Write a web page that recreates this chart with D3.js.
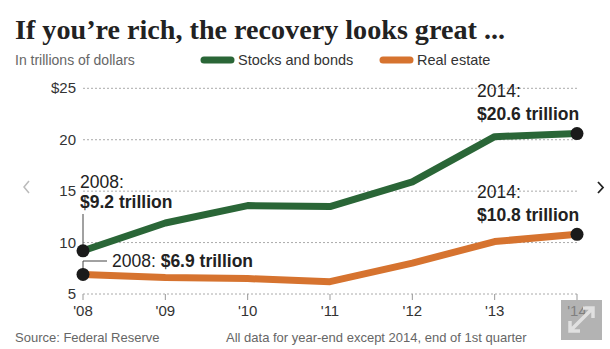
<!DOCTYPE html>
<html>
<head>
<meta charset="utf-8">
<script src="https://cdn.jsdelivr.net/npm/d3@7"></script>
<style>
  body { margin: 0; background: #fff; }
  svg { display: block; font-family: "Liberation Sans", Arial, sans-serif; }
</style>
</head>
<body>
<div id="chart"></div>
<script>
const years = [2008, 2009, 2010, 2011, 2012, 2013, 2014]
const yearLabels = ["'08", "'09", "'10", "'11", "'12", "'13", "'14"]
const stocksBonds = [9.2, 11.9, 13.6, 13.5, 15.9, 20.3, 20.6]
const realEstate = [6.9, 6.6, 6.5, 6.2, 8.0, 10.1, 10.8]
const yTicks = [5, 10, 15, 20, 25]

const WIDTH = 610
const HEIGHT = 349
const GREEN = "#2a6637"
const ORANGE = "#d6732f"

const svg = d3.select("#chart")
  .append("svg")
  .attr("width", WIDTH)
  .attr("height", HEIGHT)

const x = d3.scalePoint()
  .domain(years)
  .range([83, 577])

const y = d3.scaleLinear()
  .domain([5, 25])
  .range([294, 88.3])

// title + subtitle
svg.append("text")
  .attr("x", 15).attr("y", 39)
  .attr("textLength", 490)
  .attr("lengthAdjust", "spacingAndGlyphs")
  .style("font-family", "'Liberation Serif', 'DejaVu Serif', serif")
  .style("font-weight", "bold")
  .style("font-size", "28px")
  .style("fill", "#222")
  .text("If you’re rich, the recovery looks great ...")

svg.append("text")
  .attr("x", 15).attr("y", 65)
  .style("font-size", "14px")
  .style("fill", "#666")
  .text("In trillions of dollars")

// legend
const legend = [
  {label: "Stocks and bonds", color: GREEN, x: 204},
  {label: "Real estate", color: ORANGE, x: 383}
]
legend.forEach(d => {
  svg.append("line")
    .attr("x1", d.x).attr("x2", d.x + 27)
    .attr("y1", 60).attr("y2", 60)
    .attr("stroke", d.color)
    .attr("stroke-width", 7)
    .attr("stroke-linecap", "round")
  svg.append("text")
    .attr("x", d.x + 34).attr("y", 65)
    .style("font-size", "14.5px")
    .style("fill", "#333")
    .text(d.label)
})

// gridlines
svg.append("g")
  .selectAll("line")
  .data(yTicks)
  .join("line")
    .attr("x1", 83).attr("x2", 577)
    .attr("y1", d => y(d)).attr("y2", d => y(d))
    .attr("stroke", "#aaa")
    .attr("stroke-width", 1)
    .attr("stroke-dasharray", "2,2")

// y labels
svg.append("g")
  .selectAll("text")
  .data(yTicks)
  .join("text")
    .attr("x", 76)
    .attr("y", d => y(d) + 5)
    .attr("text-anchor", "end")
    .style("font-size", "15px")
    .style("fill", "#333")
    .text(d => d === 25 ? "$25" : d)

// x axis ticks + labels
const xAxis = svg.append("g")
xAxis.selectAll("line")
  .data(years)
  .join("line")
    .attr("x1", d => x(d)).attr("x2", d => x(d))
    .attr("y1", y(5)).attr("y2", y(5) + 6)
    .attr("stroke", "#999")
xAxis.selectAll("text")
  .data(years)
  .join("text")
    .attr("x", d => x(d))
    .attr("y", 316)
    .attr("text-anchor", "middle")
    .style("font-size", "15px")
    .style("fill", "#333")
    .text((d, i) => yearLabels[i])

// lines
const line = d3.line()
  .x((d, i) => x(years[i]))
  .y(d => y(d))

;[[realEstate, ORANGE], [stocksBonds, GREEN]].forEach(([vals, color]) => {
  svg.append("path")
    .datum(vals)
    .attr("d", line)
    .attr("fill", "none")
    .attr("stroke", color)
    .attr("stroke-width", 7)
    .attr("stroke-linejoin", "round")
})

// leader lines
const ann = svg.append("g").attr("stroke", "#444").attr("stroke-width", 1).attr("fill", "none")
ann.append("line")
  .attr("x1", x(2008)).attr("x2", x(2008))
  .attr("y1", 214).attr("y2", y(stocksBonds[0]))
ann.append("path")
  .attr("d", `M${x(2008)},${y(realEstate[0])}V261H107`)

// end dots
const dots = [
  [2008, stocksBonds[0]], [2008, realEstate[0]],
  [2014, stocksBonds[6]], [2014, realEstate[6]]
]
svg.append("g")
  .selectAll("circle")
  .data(dots)
  .join("circle")
    .attr("cx", d => x(d[0]))
    .attr("cy", d => y(d[1]))
    .attr("r", 6.5)
    .attr("fill", "#1a1a1a")

// annotations
function label(xp, yp, parts) {
  const t = svg.append("text")
    .attr("x", xp).attr("y", yp)
    .style("font-size", "17.5px")
    .style("fill", "#222")
  parts.forEach(p => {
    t.append("tspan")
      .style("font-weight", p.bold ? "bold" : "normal")
      .text(p.text)
  })
}
label(80, 188, [{text: "2008:"}])
label(80, 208, [{text: `$${stocksBonds[0]} trillion`, bold: true}])
label(112, 267, [{text: "2008: "}, {text: `$${realEstate[0]} trillion`, bold: true}])
label(477, 97, [{text: "2014:"}])
label(477, 120, [{text: `$${stocksBonds[6]} trillion`, bold: true}])
label(477, 198, [{text: "2014:"}])
label(477, 221, [{text: `$${realEstate[6]} trillion`, bold: true}])

// footer
svg.append("text")
  .attr("x", 15).attr("y", 342)
  .style("font-size", "13px").style("fill", "#666")
  .text("Source: Federal Reserve")
svg.append("text")
  .attr("x", 226).attr("y", 342)
  .style("font-size", "13px").style("fill", "#666")
  .text("All data for year-end except 2014, end of 1st quarter")

// nav arrows
svg.append("path")
  .attr("d", "M29,181L24,187L29,193")
  .attr("fill", "none").attr("stroke", "#bbb").attr("stroke-width", 1.5)
svg.append("path")
  .attr("d", "M598,182L603,187.5L598,193")
  .attr("fill", "none").attr("stroke", "#222").attr("stroke-width", 1.8)

// expand icon
const icon = svg.append("g").attr("transform", "translate(561,300)")
icon.append("rect")
  .attr("width", 41).attr("height", 40)
  .attr("fill", "#999").attr("opacity", 0.75)
icon.append("path")
  .attr("d", "M9,31L32,8M22,8H32V18M9,21V31H19")
  .attr("stroke", "#e0e0e0").attr("stroke-width", 3.5)
  .attr("fill", "none")
</script>
</body>
</html>
